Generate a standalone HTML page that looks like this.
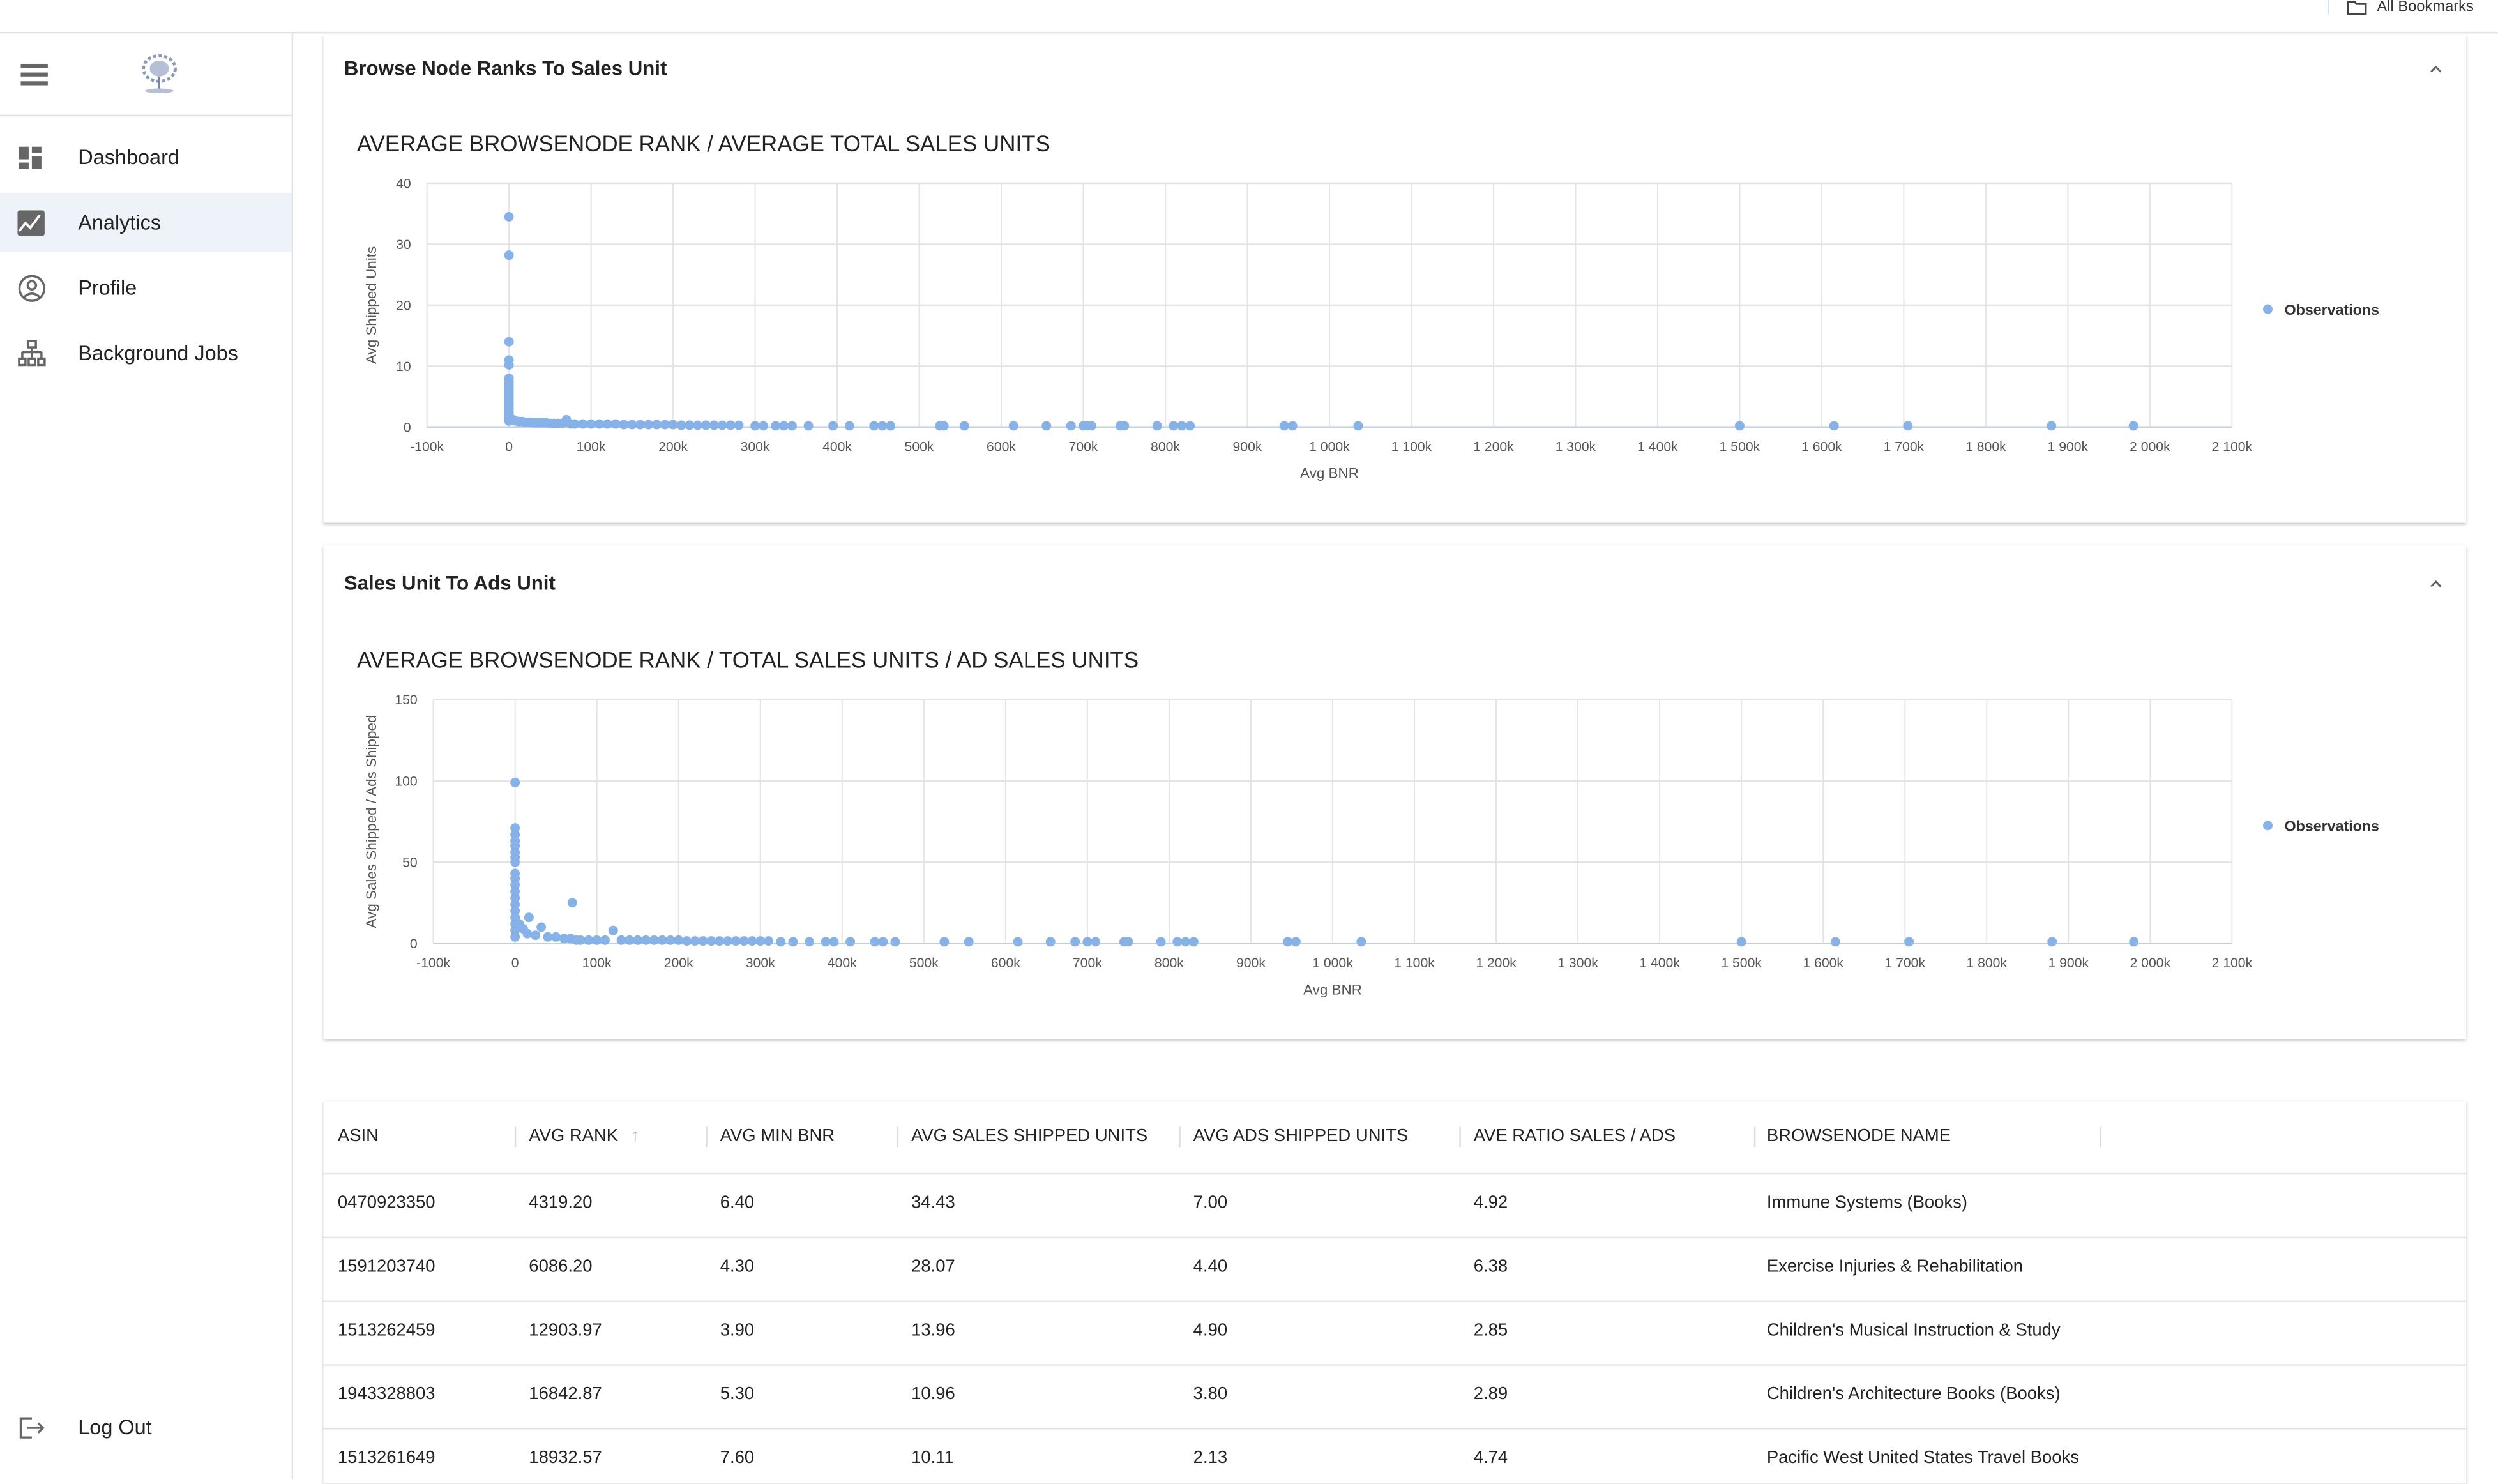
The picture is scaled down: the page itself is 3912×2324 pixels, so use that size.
<!DOCTYPE html>
<html><head><meta charset="utf-8">
<style>
html,body{margin:0;padding:0;background:#fff;}
body{width:3912px;height:2316px;overflow:hidden;font-family:"Liberation Sans",sans-serif;color:#222;}
#root{position:absolute;left:0;top:0;width:1568px;height:928px;transform-origin:0 0;transform:scale(2.4949,2.4957);background:#fff;}
.abs{position:absolute;}
.nav{position:absolute;left:49px;font-size:13px;color:#222;}
.card{position:absolute;left:203px;width:1345px;background:#fff;box-shadow:0 1px 2px rgba(0,0,0,0.25);}
.ctitle{position:absolute;left:13px;font-size:12.5px;font-weight:bold;color:#222;}
.chev{position:absolute;left:1322px;}
.th{position:absolute;top:707px;font-size:11px;color:#222;}
.td{position:absolute;font-size:11px;color:#222;}
.sep{position:absolute;top:707px;width:1px;height:13px;background:#ddd;}
.rowline{position:absolute;left:203px;width:1345px;height:1px;background:#e6e6e6;}
</style></head>
<body>
<div id="root">
  <div class="abs" style="left:0;top:0;width:1568px;height:20px;border-bottom:1px solid #e2e2e2;"></div>
  <div class="abs" style="left:1461px;top:0;width:1px;height:9px;background:#d6e2f7;"></div>
  <svg class="abs" style="left:1473px;top:0" width="13" height="10"><path d="M1 1 L5 1 L6 2.5 L12 2.5 L12 9 L1 9 Z" fill="none" stroke="#444" stroke-width="1.2"/></svg>
  <div class="abs" style="left:1492px;top:-1px;font-size:9.5px;color:#333;">All Bookmarks</div>

  <div class="abs" style="left:0;top:21px;width:183px;height:907px;border-right:1px solid #e2e2e2;background:#fff;"></div>
  <div class="abs" style="left:0;top:72px;width:183px;height:1px;background:#e2e2e2;"></div>
  <svg class="abs" style="left:13px;top:40px" width="18" height="15"><rect x="0" y="0" width="17" height="2.5" fill="#666"/><rect x="0" y="5.5" width="17" height="2.5" fill="#666"/><rect x="0" y="11" width="17" height="2.5" fill="#666"/></svg>
  <svg class="abs" style="left:86px;top:34px" width="28" height="26"><ellipse cx="14" cy="9" rx="10" ry="8" fill="none" stroke="#8a9ab8" stroke-width="2" stroke-dasharray="2 1.5"/><ellipse cx="14" cy="9" rx="6" ry="5" fill="#b5c0d6"/><rect x="13" y="14" width="1.5" height="8" fill="#7a86a0"/><ellipse cx="14" cy="23" rx="9" ry="1.5" fill="#b7c0d2"/></svg>

  <svg class="abs" style="left:12px;top:92px" width="15" height="15"><rect x="0" y="0" width="6" height="8" fill="#666"/><rect x="8" y="0" width="6" height="4" fill="#666"/><rect x="8" y="6" width="6" height="8" fill="#666"/><rect x="0" y="10" width="6" height="4" fill="#666"/></svg>
  <div class="nav" style="top:91px;">Dashboard</div>
  <div class="abs" style="left:0;top:121px;width:183px;height:37px;background:#eef3fa;"></div>
  <svg class="abs" style="left:11px;top:132px" width="18" height="17"><rect x="0" y="0" width="17" height="16" rx="1.5" fill="#666"/><polyline points="1,13 5,8 8,11 14,3" fill="none" stroke="#fff" stroke-width="1.5"/></svg>
  <div class="nav" style="top:132px;">Analytics</div>
  <svg class="abs" style="left:11px;top:172px" width="18" height="18"><circle cx="9" cy="9" r="7.8" fill="none" stroke="#666" stroke-width="1.4"/><circle cx="9" cy="7" r="2.6" fill="none" stroke="#666" stroke-width="1.4"/><path d="M4 14.5 Q9 10 14 14.5" fill="none" stroke="#666" stroke-width="1.4"/></svg>
  <div class="nav" style="top:173px;">Profile</div>
  <svg class="abs" style="left:11px;top:213px" width="19" height="18"><rect x="6.5" y="1" width="5" height="4" fill="none" stroke="#666" stroke-width="1.4"/><path d="M9 5 V8 M3 8 H15 M3 8 V12 M15 8 V12 M9 8 V12" stroke="#666" stroke-width="1.4" fill="none"/><rect x="1" y="12" width="4" height="4" fill="none" stroke="#666" stroke-width="1.4"/><rect x="7" y="12" width="4" height="4" fill="none" stroke="#666" stroke-width="1.4"/><rect x="13" y="12" width="4" height="4" fill="none" stroke="#666" stroke-width="1.4"/></svg>
  <div class="nav" style="top:214px;">Background Jobs</div>
  <svg class="abs" style="left:11px;top:888px" width="18" height="16"><path d="M9 2 H2 V14 H9" fill="none" stroke="#666" stroke-width="1.3"/><path d="M6 8 H16 M13 5 L16 8 L13 11" fill="none" stroke="#666" stroke-width="1.3"/></svg>
  <div class="nav" style="top:888px;">Log Out</div>

  <div class="card" style="top:22px;height:306px;">
    <div class="ctitle" style="top:14px;">Browse Node Ranks To Sales Unit</div>
    <svg class="chev" style="top:18px" width="8" height="6"><polyline points="1,5 4,2 7,5" fill="none" stroke="#666" stroke-width="1.2"/></svg>
  </div>
  <div class="card" style="top:342px;height:310px;">
    <div class="ctitle" style="top:17px;">Sales Unit To Ads Unit</div>
    <svg class="chev" style="top:21px" width="8" height="6"><polyline points="1,5 4,2 7,5" fill="none" stroke="#666" stroke-width="1.2"/></svg>
  </div>
  <svg class="abs" id="chart1" style="left:0;top:0" width="1568" height="330"></svg>
  <svg class="abs" id="chart2" style="left:0;top:0" width="1568" height="660"></svg>

  <div class="card" style="top:691px;height:240px;"></div>
  <div id="table"></div>
</div>
<script>
// ---------- chart 1 data ----------
const c1X = [0,0,0,0,0,0,0,0,0,0,0,0,0,0,0,0,0,0,0,0,70,
 5,8,12,16,20,25,30,35,40,45,50,55,60,65,75,80,90,100,110,120,130,140,150,160,170,180,190,200,210,220,230,240,250,260,270,280,
 300,310,325,335,345,365,395,415,445,455,465,525,530,555,615,655,685,700,705,710,745,750,790,810,820,830,945,955,1035,1500,1615,1705,1880,1980];
const c1Y = [34.5,28.2,14,11,10.2,8,7.5,7,6.5,6,5.5,5,4.5,4,3.5,3,2.5,2,1.5,1,1.2,
 1.2,1,0.9,0.9,0.8,0.8,0.7,0.7,0.7,0.7,0.6,0.6,0.6,0.6,0.5,0.5,0.5,0.5,0.5,0.5,0.5,0.4,0.4,0.4,0.4,0.4,0.4,0.4,0.3,0.3,0.3,0.3,0.3,0.3,0.3,0.3,
 0.2,0.2,0.2,0.2,0.2,0.2,0.2,0.2,0.2,0.2,0.2,0.2,0.2,0.2,0.2,0.2,0.2,0.2,0.2,0.2,0.2,0.2,0.2,0.2,0.2,0.2,0.2,0.2,0.2,0.2,0.2,0.2,0.2,0.2];
const c1YTicks = [0,10,20,30,40];
// ---------- chart 2 data ----------
const c2X = [0,0,0,0,0,0,0,0,0,0,0,0,0,0,0,0,0,0,0,70,17,32,120,5,10,15,25,40,50,60,68,
 75,80,90,100,110,130,140,150,160,170,180,190,200,210,220,230,240,250,260,270,280,290,300,310,
 325,340,360,380,390,410,440,450,465,525,555,615,655,685,700,710,745,750,790,810,820,830,945,955,1035,1500,1615,1705,1880,1980];
const c2Y = [99,71,67,63,60,56,53,50,43,40,36,32,28,24,20,16,12,8,4,25,16,10,8,12,9,6,5,4,4,3,3,
 2,2,2,2,2,2,2,2,2,2,2,2,2,1.5,1.5,1.5,1.5,1.5,1.5,1.5,1.5,1.5,1.5,1.5,
 1,1,1,1,1,1,1,1,1,1,1,1,1,1,1,1,1,1,1,1,1,1,1,1,1,1,1,1,1,1];
const c2YTicks = [0,50,100,150];
const xTicks = [-100,0,100,200,300,400,500,600,700,800,900,1000,1100,1200,1300,1400,1500,1600,1700,1800,1900,2000,2100];

const NS = 'http://www.w3.org/2000/svg';
function mk(svg, tag, attrs, text){
  const e = document.createElementNS(NS, tag);
  for (const k in attrs) e.setAttribute(k, attrs[k]);
  if (text !== undefined) e.textContent = text;
  svg.appendChild(e); return e;
}
function fmtX(v){ if (v===0) return '0'; const a=Math.abs(v); let s = a>=1000 ? Math.floor(a/1000)+' '+String(a%1000).padStart(3,'0') : String(a); return (v<0?'-':'')+s+'k'; }
function drawChart(id, cfg){
  const svg = document.getElementById(id);
  const xs = v => cfg.x0 + (v - (-100)) / 2200 * (cfg.x1 - cfg.x0);
  const ys = v => cfg.y1 - v / cfg.ymax * (cfg.y1 - cfg.y0);
  const tt = mk(svg,'text',{x:cfg.titleX,y:cfg.titleY,'font-size':14,'font-weight':'500',fill:'#222'},cfg.title);
  
  
  xTicks.forEach(t=>{
    const l = mk(svg,'line',{x1:xs(t),x2:xs(t),y1:cfg.y0,y2:cfg.y1,stroke:'#e4e4e4','stroke-width':0.8});
    
    
    const tx = mk(svg,'text',{x:xs(t),y:cfg.y1+15,'font-size':8.5,fill:'#555','text-anchor':'middle'},fmtX(t));
    
    
  });
  cfg.yTicks.forEach(t=>{
    const l = mk(svg,'line',{x1:cfg.x0,x2:cfg.x1,y1:ys(t),y2:ys(t),stroke:t===0?'#c8d0e0':'#e4e4e4','stroke-width':t===0?1.2:1});
    
    
    const tx = mk(svg,'text',{x:cfg.x0-10,y:ys(t)+3,'font-size':8.5,fill:'#555','text-anchor':'end'},String(t));
    
    
  });
  cfg.xs.forEach((v,i)=>{
    const c = mk(svg,'circle',{cx:xs(v),cy:ys(cfg.ys[i]),r:3,fill:'#86b2e8'});
    
    
  });
  const xt = mk(svg,'text',{x:(cfg.x0+cfg.x1)/2,y:cfg.y1+32,'font-size':9,fill:'#555','text-anchor':'middle'},'Avg BNR');
  
  
  const cy=(cfg.y0+cfg.y1)/2;
  const yt = mk(svg,'text',{x:236,y:cy,'font-size':9,fill:'#555','text-anchor':'middle',transform:'rotate(-90 236 '+cy+')'},cfg.yTitle);
  
  
  const ld = mk(svg,'circle',{cx:1423.5,cy:cfg.legY,r:3,fill:'#86b2e8'});
  
  
  const lt = mk(svg,'text',{x:1434,y:cfg.legY+3.5,'font-size':9.3,'font-weight':'bold',fill:'#333'},'Observations');
  
  
}
drawChart('chart1',{x0:268,x1:1401,y0:115,y1:268,ymax:40,yTicks:c1YTicks,xs:c1X,ys:c1Y,title:'AVERAGE BROWSENODE RANK / AVERAGE TOTAL SALES UNITS',titleX:224,titleY:95,yTitle:'Avg Shipped Units',legY:194});
drawChart('chart2',{x0:272,x1:1401,y0:439,y1:592,ymax:150,yTicks:c2YTicks,xs:c2X,ys:c2Y,title:'AVERAGE BROWSENODE RANK / TOTAL SALES UNITS / AD SALES UNITS',titleX:224,titleY:419,yTitle:'Avg Sales Shipped / Ads Shipped',legY:518});

// ---------- table ----------
const cols = ['ASIN','AVG RANK','AVG MIN BNR','AVG SALES SHIPPED UNITS','AVG ADS SHIPPED UNITS','AVE RATIO SALES / ADS','BROWSENODE NAME'];
const colX = [212,332,452,572,749,925,1109];
const sepX = [323,443,563,740,916,1101,1318];
const rows = [
 ['0470923350','4319.20','6.40','34.43','7.00','4.92','Immune Systems (Books)'],
 ['1591203740','6086.20','4.30','28.07','4.40','6.38','Exercise Injuries & Rehabilitation'],
 ['1513262459','12903.97','3.90','13.96','4.90','2.85',"Children's Musical Instruction & Study"],
 ['1943328803','16842.87','5.30','10.96','3.80','2.89',"Children's Architecture Books (Books)"],
 ['1513261649','18932.57','7.60','10.11','2.13','4.74','Pacific West United States Travel Books']];
const T = document.getElementById('root');
cols.forEach((c,i)=>{
  const d=document.createElement('div'); d.className='th'; d.style.left=colX[i]+'px'; d.textContent=c;
  
  
  T.appendChild(d);
  const s=document.createElement('div'); s.className='sep'; s.style.left=sepX[i]+'px';
  
  
  T.appendChild(s);
});
const ar=document.createElement('div'); ar.className='th'; ar.style.left='396px'; ar.style.color='#aaa'; ar.textContent='\u2191';


T.appendChild(ar);
[736,776,816,856,896].forEach(y=>{
  const l=document.createElement('div'); l.className='rowline'; l.style.top=y+'px';
  
  
  T.appendChild(l);
});
rows.forEach((r,ri)=>{
  r.forEach((v,ci)=>{
    const d=document.createElement('div'); d.className='td'; d.style.left=colX[ci]+'px'; d.style.top=(749+ri*40)+'px'; d.textContent=v;
    
    
    T.appendChild(d);
  });
});
</script>
</body></html>
